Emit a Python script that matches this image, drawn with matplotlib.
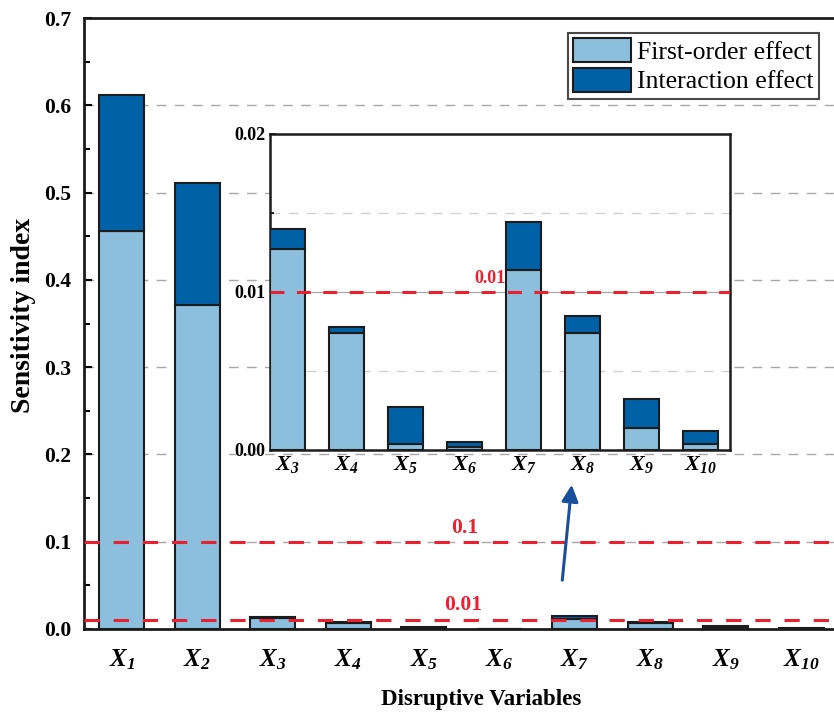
import matplotlib
matplotlib.use("Agg")
import matplotlib.pyplot as plt
import numpy as np
from matplotlib.patches import FancyArrowPatch

plt.rcParams["font.family"] = ["Liberation Serif", "DejaVu Serif"]
plt.rcParams["font.weight"] = "bold"
# tick labels X_i are fully bold italic, subscript digits included
plt.rcParams["mathtext.fontset"] = "custom"
plt.rcParams["mathtext.it"] = "Liberation Serif:italic:bold"
plt.rcParams["mathtext.rm"] = "Liberation Serif:italic:bold"
plt.rcParams["mathtext.bf"] = "Liberation Serif:italic:bold"
plt.rcParams["lines.scale_dashes"] = False

variables = ["1", "2", "3", "4", "5", "6", "7", "8", "9", "10"]
first_order = [0.456, 0.371, 0.0127, 0.0074, 0.0004, 0.0002, 0.0114, 0.0074, 0.0014, 0.0004]
interaction = [0.156, 0.140, 0.0013, 0.0004, 0.0023, 0.0003, 0.0030, 0.0011, 0.0018, 0.0008]
thresholds = [0.1, 0.01]

LIGHT = "#8CBFDE"
DARK = "#0062A6"
EDGE = "#1c1c1c"
RED = "#E8202F"
GRAY = "#A8A8A8"

labels = [r"$X_{%s}$" % v for v in variables]
first = np.array(first_order)
inter = np.array(interaction)
x = np.arange(len(variables))

fig = plt.figure(figsize=(8.34, 7.14), dpi=100)
ax = fig.add_axes([84 / 834, 1 - 629 / 714, 755 / 834, 611 / 714])

ax.bar(x, first, 0.6, color=LIGHT, edgecolor=EDGE, linewidth=1.5, label="First-order effect", zorder=3)
ax.bar(x, inter, 0.6, bottom=first, color=DARK, edgecolor=EDGE, linewidth=1.5, label="Interaction effect", zorder=3)

ax.set_xlim(-0.5, 9.5)
ax.set_ylim(0, 0.7)
ax.set_yticks(np.arange(0, 0.71, 0.1))
ax.set_yticks(np.arange(0.05, 0.7, 0.1), minor=True)
ax.set_yticklabels(["%.1f" % v for v in np.arange(0, 0.71, 0.1)])
ax.set_xticks(x)
ax.set_xticklabels(labels, fontsize=18)
ax.tick_params(axis="x", length=0, pad=13)
ax.tick_params(axis="y", which="major", direction="in", length=6, width=1.5, labelsize=15.5, pad=9)
ax.tick_params(axis="y", which="minor", direction="in", length=4, width=1.5)
for v in np.arange(0.1, 0.65, 0.1):
    ax.axhline(v, color=GRAY, lw=1, dashes=(7, 6), zorder=1)
for s in ["left", "top", "bottom"]:
    ax.spines[s].set_linewidth(2)
    ax.spines[s].set_color(EDGE)
ax.spines["right"].set_visible(False)

for t in thresholds:
    ax.axhline(t, color=RED, lw=2.2, dashes=(11, 10), zorder=4)
ax.text(4.54, 0.104, "0.1", color=RED, fontsize=15.5, ha="center", va="bottom")
ax.text(4.52, 0.016, "0.01", color=RED, fontsize=15.5, ha="center", va="bottom")

leg = ax.legend(loc="upper right", bbox_to_anchor=(819 / 834, 1 - 33 / 714),
                bbox_transform=fig.transFigure, fontsize=18.5, frameon=True, fancybox=False,
                handlelength=2.25, handleheight=1.05, handletextpad=0.25, labelspacing=0.15,
                borderpad=0.2, borderaxespad=0)
leg.get_frame().set_edgecolor(EDGE)
leg.get_frame().set_linewidth(1.5)
for txt in leg.get_texts():
    txt.set_fontweight("normal")

fig.text(481 / 834, 1 - 700 / 714, "Disruptive Variables", fontsize=16.5, ha="center", va="center")
fig.text(24 / 834, 1 - 315 / 714, "Sensitivity index", fontsize=20, ha="center", va="center", rotation=90)

# inset zoom on X3..X10
ins = fig.add_axes([270 / 834, 1 - 450 / 714, 460 / 834, 316 / 714])
xi = np.arange(8)
ins.bar(xi, first[2:], 0.6, color=LIGHT, edgecolor=EDGE, linewidth=1.5, zorder=3)
ins.bar(xi, inter[2:], 0.6, bottom=first[2:], color=DARK, edgecolor=EDGE, linewidth=1.5, zorder=3)
ins.set_xlim(-0.3, 7.5)
ins.set_ylim(0, 0.02)
ins.set_yticks([0, 0.01, 0.02])
ins.set_yticklabels(["0.00", "0.01", "0.02"])
ins.set_yticks([0.005, 0.015], minor=True)
ins.set_xticks(xi)
ins.set_xticklabels(labels[2:], fontsize=16)
ins.tick_params(axis="x", length=0, pad=3)
ins.tick_params(axis="y", which="major", direction="in", length=4, width=1.2, labelsize=13, pad=3)
ins.tick_params(axis="y", which="minor", direction="in", length=3, width=1.2)
for v in [0.005, 0.015]:
    ins.axhline(v, color="#CFCFCF", lw=0.9, dashes=(7, 6), zorder=1)
ins.axhline(0.01, color=GRAY, lw=0.9, zorder=1)
ins.axhline(0.01, color=RED, lw=2.2, dashes=(10, 9), zorder=4)
ins.text(3.43, 0.0103, "0.01", color=RED, fontsize=13, ha="center", va="bottom")
for s in ins.spines.values():
    s.set_linewidth(1.8)
    s.set_color(EDGE)

arrow = FancyArrowPatch((562, 714 - 583), (572, 714 - 482), transform=None,
                        arrowstyle="-|>,head_length=10,head_width=5", lw=2.2,
                        color="#1B4F9C", mutation_scale=1)
fig.add_artist(arrow)

fig.savefig("out.png", dpi=100)
